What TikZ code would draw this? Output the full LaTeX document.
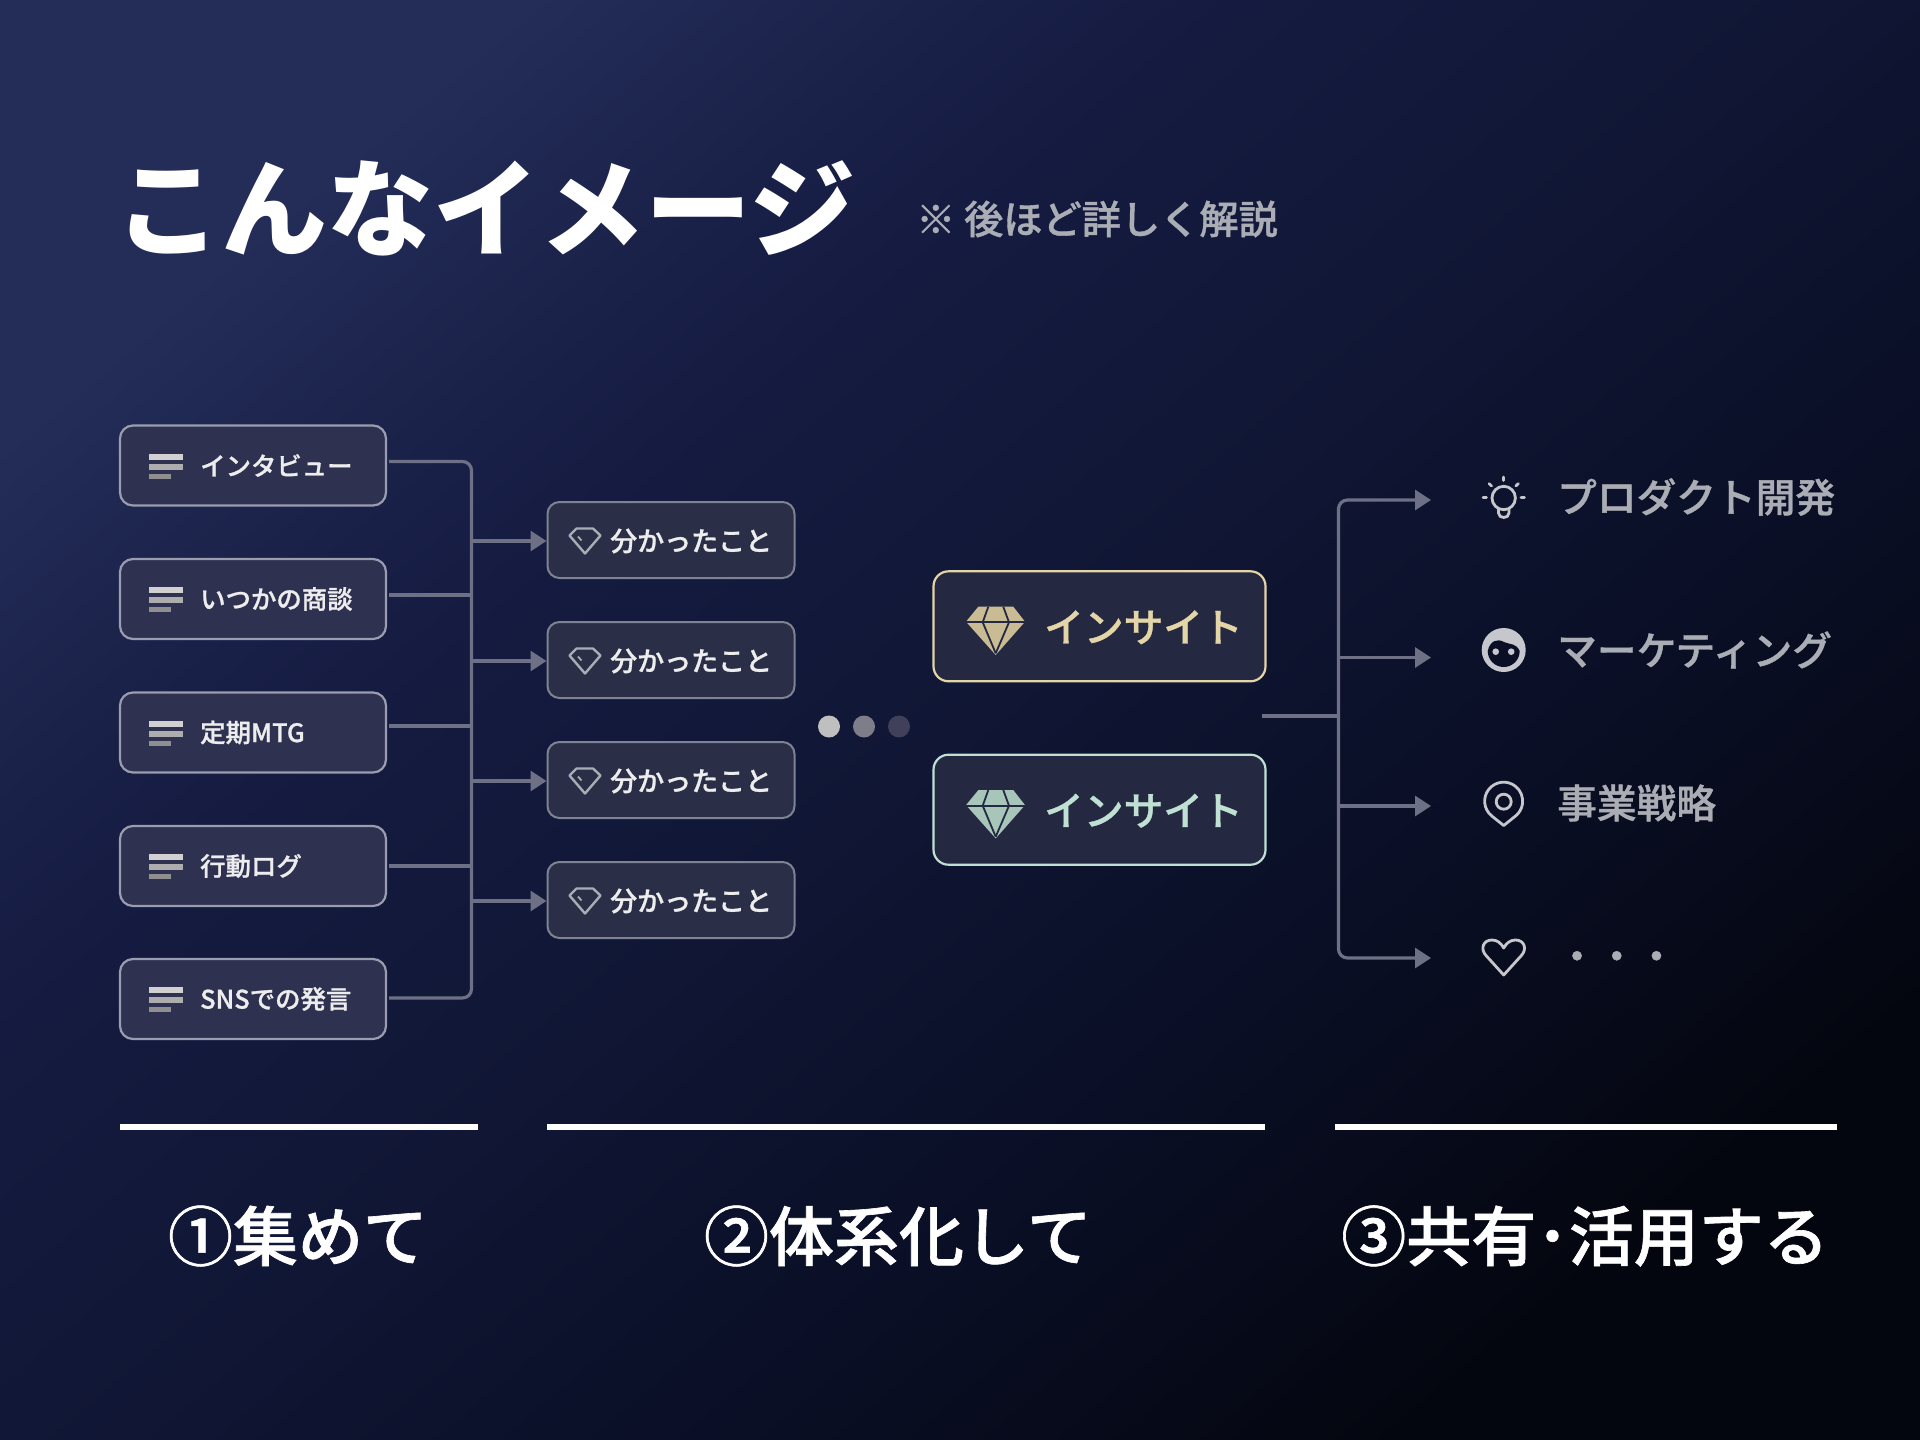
\documentclass[tikz,border=0pt]{standalone}
\usepackage{fontspec}
\setmainfont{Noto Sans CJK JP}
\newfontfamily\titlefont{Noto Sans CJK JP Black}
\newfontfamily\midfont[FakeBold=1.0]{Noto Sans CJK JP Medium}
\usetikzlibrary{arrows.meta,positioning}
\definecolor{bgA}{HTML}{232D58}
\definecolor{bgM}{HTML}{161C42}
\definecolor{bgB}{HTML}{101634}
\definecolor{bgD}{HTML}{0A0F26}
\definecolor{bgC}{HTML}{04060F}
\definecolor{srcfill}{HTML}{2E3150}
\definecolor{srcline}{HTML}{9A9DAF}
\definecolor{kwfill}{HTML}{2A2E47}
\definecolor{kwline}{HTML}{7F8292}
\definecolor{inFill}{HTML}{242941}
\definecolor{gold}{HTML}{E4D5A8}
\definecolor{mint}{HTML}{BFE0D3}
\definecolor{wire}{HTML}{6E7186}
\definecolor{soft}{HTML}{ABADB5}
\definecolor{iconc}{HTML}{C6C7CD}
\pgfdeclareverticalshading{bgshade}{100bp}{color(0bp)=(bgC); color(25bp)=(bgC); color(38bp)=(bgD); color(50bp)=(bgB); color(63bp)=(bgM); color(75bp)=(bgA); color(100bp)=(bgA)}
\tikzset{
    srcbox/.style={draw=srcline, fill=srcfill, line width=2.2pt, rounded corners=13pt, minimum width=266pt, minimum height=80pt},
    kwbox/.style={draw=kwline, fill=kwfill, line width=2pt, rounded corners=12pt, minimum width=247pt, minimum height=76pt},
    inbox/.style={fill=inFill, line width=2.2pt, rounded corners=15pt, minimum width=332pt, minimum height=110pt},
    srctext/.style={anchor=west, inner sep=0pt, text=white!93!black, font=\midfont\fontsize{25.4}{30}\selectfont},
    wirek/.style={wire, line width=3.2pt, rounded corners=9pt},
    tipk/.style={-{Triangle[length=16pt,width=20pt]}},
    ruleline/.style={white, line width=5.5pt},
    steplabel/.style={inner sep=0pt, text=white, font=\midfont\fontsize{65}{70}\selectfont},
    uselabel/.style={anchor=west, inner sep=0pt, text=soft, font=\midfont\fontsize{39.7}{46}\selectfont},
    iconline/.style={iconc, line width=2.8pt, line cap=round, line join=round}
}
\begin{document}
\begin{tikzpicture}[x=1pt, y=-1pt]
    \useasboundingbox (0,0) rectangle (1920,1440);
    % Background
    \shade[shading=bgshade, shading angle=40] (0,0) rectangle (1920,1440);
    % Title
    \node[anchor=west, inner sep=0pt, text=white, font=\titlefont\fontsize{106}{110}\selectfont] (title) at (115,208) {こんなイメージ};
    \node[anchor=west, inner sep=0pt, text=soft, font=\midfont\fontsize{39.2}{46}\selectfont] (note) at (916,219) {※ 後ほど詳しく解説};
    % Bus coordinates
    \coordinate (busL) at (471.5,461.5);
    \coordinate (busLend) at (471.5,998);
    \coordinate (busR) at (1338.5,500);
    \coordinate (busRend) at (1338.5,958);
    % Source boxes with bars
    \foreach \i/\y/\t in {
        1/465.5/インタビュー,
        2/599/いつかの商談,
        3/732.5/定期MTG,
        4/866/行動ログ,
        5/999/SNSでの発言
    } {
        \node[srcbox] (src\i) at (253,\y) {};
        \node[srctext] (srctxt\i) at (200,\y) {\t};
        \fill[white!82!black] (149,\y-12) rectangle (183,\y-6);
        \fill[white!68!black] (149,\y-2) rectangle (183,\y+4);
        \fill[white!56!black] (149,\y+8) rectangle (171,\y+13);
    }
    % Source wires
    \draw[wirek] ([xshift=2pt]src1.east |- busL) -- (busL) -- (busLend) -- ([xshift=2pt]src5.east |- busLend);
    \foreach \i/\y in {2/595, 3/726, 4/866} {
        \draw[wirek] ([xshift=2pt]src\i.east |- 0,\y) -- (busL |- 0,\y);
    }
    % Finding boxes
    \foreach \i/\y in {1/540, 2/660, 3/780, 4/900} {
        \node[kwbox] (kw\i) at (671,\y) {};
        \node[srctext, font=\midfont\fontsize{27}{30}\selectfont] (kwtxt\i) at (610,\y+1) {分かったこと};
        \draw[soft, line width=2.4pt, line join=round, shift={(0,\y)}] (576.5,-11.5) -- (593,-11.5) -- (600.5,-4.5) -- (585,13.5) -- (569.5,-4.5) -- cycle;
        \draw[soft, line width=1.8pt, shift={(0,\y)}] (578,-3.5) -- (581.5,0.5);
        \draw[wire, line width=3.2pt, tipk] ([yshift=-1pt]busL |- kw\i.west) -- ([yshift=-1pt]kw\i.west);
    }
    % Dots
    \fill[white!75!black] (829,726.5) circle (11) node (dotA) {};
    \fill[white!52!black!95!blue] (864,726.5) circle (11) node (dotB) {};
    \fill[white!28!black!90!blue] (899,726.5) circle (11) node (dotC) {};
    % Insight boxes
    \foreach \i/\y/\c in {1/626.3/gold, 2/809.7/mint} {
        \node[inbox, draw=\c] (ins\i) at (1099.5,\y) {};
        \node[anchor=west, inner sep=0pt, text=\c, font=\midfont\fontsize{39.7}{46}\selectfont] (instxt\i) at (1044,\y+1) {インサイト};
        \fill[\c!88!black, shift={(0,\y)}] (978.3,-19.6) -- (1013.3,-19.6) -- (1025,-4.6) -- (995.7,28.7) -- (966,-4.6) -- cycle;
        \draw[inFill, line width=1.8pt, shift={(0,\y)}] (966,-4) -- (1025,-4);
        \draw[inFill, line width=1.8pt, shift={(0,\y)}] (988.3,-19.6) -- (982.7,-4) -- (995.7,27);
        \draw[inFill, line width=1.8pt, shift={(0,\y)}] (1003.3,-19.6) -- (1009,-4) -- (995.7,27);
    }
    % Use wires
    \coordinate (outA) at (1431,500);
    \coordinate (outB) at (1431,657.5);
    \coordinate (outC) at (1431,806);
    \coordinate (outD) at (1431,958);
    \coordinate (insout) at (1262,716);
    \draw[wirek] (insout) -- (busR |- insout);
    \draw[wirek, {Triangle[length=16pt,width=20pt]}-{Triangle[length=16pt,width=20pt]}] (outA) -- (busR) -- (busRend) -- (outD);
    \draw[wire, line width=3.2pt, tipk] (busR |- outB) -- (outB);
    \draw[wire, line width=3.2pt, tipk] (busR |- outC) -- (outC);
    % Use labels
    \node[uselabel] (useA) at (1557,497) {プロダクト開発};
    \node[uselabel] (useB) at (1557,650) {マーケティング};
    \node[uselabel] (useC) at (1557,803) {事業戦略};
    \node[uselabel] (useD) at (1557,961) {・・・};
    % Bulb
    \draw[iconline] (1503.7,498) circle (11.7);
    \draw[iconline] (1498.5,509) -- (1498.5,513) .. controls (1498.5,519) and (1509,519) .. (1509,513) -- (1509,509);
    \draw[iconline] (1503.7,477) -- (1503.7,480.5);
    \draw[iconline] (1489,483.5) -- (1491.5,486);
    \draw[iconline] (1518.4,483.5) -- (1515.9,486);
    \draw[iconline] (1483,497.7) -- (1486.5,497.7);
    \draw[iconline] (1521,497.7) -- (1524.5,497.7);
    % Face
    \fill[iconc] (1503.7,650) circle (22);
    \fill[bgD] (1487.7,651) .. controls (1490,641) and (1497,638) .. (1504,642) .. controls (1511,645) and (1516,643) .. (1519.7,651) arc[start angle=0, end angle=180, radius=16] -- cycle;
    \fill[iconc] (1495.7,651.7) circle (3.3);
    \fill[iconc] (1511.2,651.7) circle (3.3);
    % Pin
    \draw[iconline] (1503.7,825.5) -- ++(-11.9,-9.5) arc[start angle=128.6, end angle=411.4, radius=19] -- cycle;
    \draw[iconline] (1503.7,801.7) circle (7.5);
    % Heart
    \draw[iconline] (1503.7,975) -- (1486,955.5) .. controls (1480,949) and (1483,940) .. (1492,940) .. controls (1497,940) and (1501,943) .. (1503.7,948) .. controls (1506.4,943) and (1510.4,940) .. (1515.4,940) .. controls (1524.4,940) and (1527.4,949) .. (1521.4,955.5) -- cycle;
    % Rules
    \coordinate (ruleA) at (120,1127);
    \coordinate (ruleB) at (478,1127);
    \coordinate (ruleC) at (547,1127);
    \coordinate (ruleD) at (1265,1127);
    \coordinate (ruleE) at (1335,1127);
    \coordinate (ruleF) at (1837,1127);
    \draw[ruleline] (ruleA) -- (ruleB);
    \draw[ruleline] (ruleC) -- (ruleD);
    \draw[ruleline] (ruleE) -- (ruleF);
    % Steps
    \node[steplabel] (stepA) at (298,1236) {①集めて};
    \node[steplabel] (stepB) at (898,1236) {②体系化して};
    \node[steplabel] (stepC) at (1585,1236) {③共有･活用する};
\end{tikzpicture}
\end{document}
